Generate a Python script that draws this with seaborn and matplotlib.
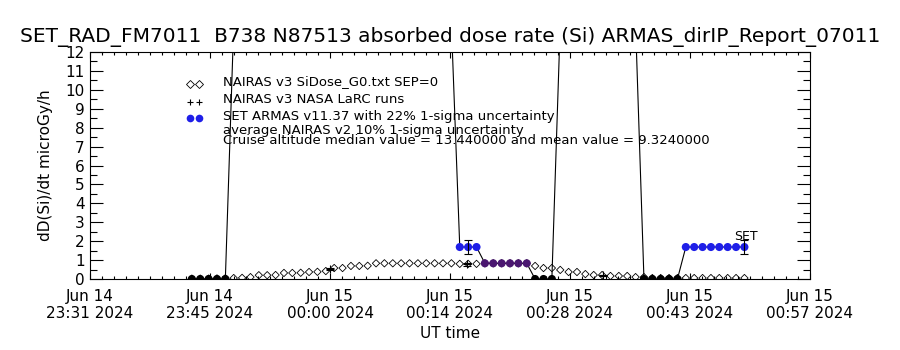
import matplotlib; matplotlib.use('Agg')
import pandas as pd
import numpy as np
import matplotlib.pyplot as plt
import matplotlib.dates as mdates
from matplotlib.ticker import AutoMinorLocator, MultipleLocator, FixedLocator
import seaborn as sns

sns.set_style('white')
plt.rcParams['font.family'] = ['DejaVu Sans']
plt.rcParams['text.color'] = 'black'
plt.rcParams['axes.labelcolor'] = 'black'
plt.rcParams['xtick.color'] = 'black'
plt.rcParams['ytick.color'] = 'black'

# 1-minute samples, first one at 23:43:40 UT
sample_start = '2024-06-14 23:43:40'

# SET ARMAS absorbed dose rate (Si), microGy/h
armas_dose = [0.0, 0.0, 0.0, 0.0, 0.0,
              13.44, 13.44, 13.44, 13.44, 13.44, 13.44, 13.44, 13.44, 13.44,
              13.44, 13.44, 13.44, 13.44, 13.44, 13.44, 13.44, 13.44, 13.44,
              13.44, 13.44, 13.44, 13.44, 13.44, 13.44, 13.44, 13.44, 13.44,
              1.69, 1.69, 1.69,
              0.83, 0.83, 0.83, 0.83, 0.83, 0.83,
              0.0, 0.0, 0.0,
              13.44, 13.44, 13.44, 13.44, 13.44, 13.44, 13.44, 13.44, 13.44, 13.44,
              0.0, 0.0, 0.0, 0.0, 0.0,
              1.69, 1.69, 1.69, 1.69, 1.69, 1.69, 1.69, 1.69]

# NAIRAS v3 SiDose_G0 along the same track
nairas_dose = [0.02, 0.02, 0.02, 0.03, 0.04,
               0.05, 0.06, 0.10, 0.20, 0.20, 0.21, 0.32, 0.32, 0.33, 0.37,
               0.38, 0.42, 0.58, 0.58, 0.69, 0.69, 0.70,
               0.83, 0.83, 0.83, 0.83, 0.83, 0.83, 0.83, 0.83, 0.83, 0.83,
               0.80, 0.80, 0.80,
               0.83, 0.83, 0.83, 0.83, 0.83, 0.83,
               0.69, 0.58, 0.58, 0.48, 0.37, 0.37, 0.26, 0.21, 0.21, 0.16,
               0.16, 0.16, 0.10, 0.10,
               0.05, 0.05, 0.05, 0.05, 0.05, 0.05, 0.05, 0.05, 0.05, 0.05,
               0.05, 0.05]

# NAIRAS v3 NASA LaRC runs
larc_times = ['2024-06-15 00:00:10', '2024-06-15 00:16:30', '2024-06-15 00:32:50']
larc_dose = [0.53, 0.78, 0.19]
larc_err_frac = 0.10

# ARMAS samples that carry the 22% error bar
armas_err_idx = [33, 66]
armas_err_frac = 0.22

# colour of the ARMAS dots by level
level_colors = {0.0: 'black', 0.83: '#4a1670', 1.69: '#1f1fe8', 13.44: 'black'}

x_start = '2024-06-14 23:31:30'
x_end = '2024-06-15 00:57:30'
tick_labels = ['Jun 14\n23:31 2024', 'Jun 14\n23:45 2024', 'Jun 15\n00:00 2024',
               'Jun 15\n00:14 2024', 'Jun 15\n00:28 2024', 'Jun 15\n00:43 2024',
               'Jun 15\n00:57 2024']

title = 'SET_RAD_FM7011  B738 N87513 absorbed dose rate (Si) ARMAS_dirIP_Report_07011'
legend_lines = ['NAIRAS v3 SiDose_G0.txt SEP=0',
                'NAIRAS v3 NASA LaRC runs',
                'SET ARMAS v11.37 with 22% 1-sigma uncertainty',
                'average NAIRAS v2 10% 1-sigma uncertainty',
                'Cruise altitude median value = 13.440000 and mean value = 9.3240000']

df = pd.DataFrame({
    'time': pd.date_range(sample_start, periods=len(armas_dose), freq='1min'),
    'armas': armas_dose,
    'nairas': nairas_dose,
})
larc = pd.DataFrame({'time': pd.to_datetime(larc_times), 'dose': larc_dose})

fig = plt.figure(figsize=(9, 3.5), dpi=100)
ax = fig.add_axes([0.1, 1 - 279 / 350, 0.8, 227 / 350])

# NAIRAS diamonds
sns.scatterplot(data=df, x='time', y='nairas', marker='D', s=14,
                facecolors='none', edgecolor='black', linewidth=0.6, ax=ax, zorder=3)

# ARMAS line + coloured dots
sns.lineplot(data=df, x='time', y='armas', color='black', linewidth=0.8, ax=ax, zorder=2)
sns.scatterplot(data=df, x='time', y='armas', hue='armas', palette=level_colors,
                s=34, linewidth=0, legend=False, ax=ax, zorder=4)
err_rows = df.iloc[armas_err_idx]
ax.errorbar(err_rows['time'], err_rows['armas'], yerr=err_rows['armas'] * armas_err_frac,
            fmt='none', ecolor='black', elinewidth=0.8, capsize=2.6, capthick=0.8, zorder=5)

# NASA LaRC crosses
sns.scatterplot(data=larc, x='time', y='dose', marker='+', s=30, color='black',
                linewidth=0.8, ax=ax, zorder=5)
ax.errorbar(larc['time'], larc['dose'], yerr=larc['dose'] * larc_err_frac,
            fmt='none', ecolor='black', elinewidth=0.8, capsize=2.6, capthick=0.8, zorder=5)

last = df.iloc[-1]
ax.annotate('SET', xy=(last['time'], last['armas']), xytext=(-10, 4),
            textcoords='offset pixels', fontsize=9, ha='left', va='bottom')

# axes
x0, x1 = pd.Timestamp(x_start), pd.Timestamp(x_end)
ax.set_xlim(x0, x1)
ax.set_ylim(0, 12)
major_x = mdates.date2num(pd.date_range(x0, x1, periods=len(tick_labels)))
ax.xaxis.set_major_locator(FixedLocator(major_x))
ax.xaxis.set_minor_locator(AutoMinorLocator(10))
ax.set_xticklabels(tick_labels)
ax.yaxis.set_major_locator(MultipleLocator(1))
ax.yaxis.set_minor_locator(MultipleLocator(0.5))

ax.tick_params(axis='x', which='major', direction='in', length=4.5, width=0.8,
               top=True, bottom=True, pad=7, labelsize=11)
ax.tick_params(axis='x', which='minor', direction='in', length=2.2, width=0.8,
               top=True, bottom=True)
ax.tick_params(axis='y', which='major', direction='in', length=9.5, width=0.8,
               left=True, right=True, pad=4, labelsize=11)
ax.tick_params(axis='y', which='minor', direction='in', length=5, width=0.8,
               left=True, right=True)
for sp in ax.spines.values():
    sp.set_color('black')
    sp.set_linewidth(0.8)

ax.set_xlabel('UT time', fontsize=11)
ax.set_ylabel('dD(Si)/dt microGy/h', fontsize=11)
ax.xaxis.set_label_coords(0.5, -0.205)
ax.yaxis.set_label_coords(-0.051, 0.5)

# legend block, IDL style
ax.plot([0.139, 0.151], [0.859, 0.859], 'D', mfc='none', mec='black', ms=3.6, mew=0.6,
        transform=ax.transAxes)
ax.plot([0.139, 0.151], [0.780, 0.780], '+', color='black', ms=5, mew=0.8,
        transform=ax.transAxes)
ax.plot([0.139, 0.151], [0.710, 0.710], 'o', color='#1f1fe8', ms=5.5, mew=0,
        transform=ax.transAxes)
legend_y = [0.868, 0.789, 0.714, 0.652, 0.608]
for txt, yy in zip(legend_lines, legend_y):
    ax.text(0.185, yy, txt, transform=ax.transAxes, fontsize=9.5, va='center', ha='left')

fig.text(0.5, 1 - 37 / 350, title, ha='center', va='center', fontsize=14.5)

fig.savefig('out.png', dpi=100)
